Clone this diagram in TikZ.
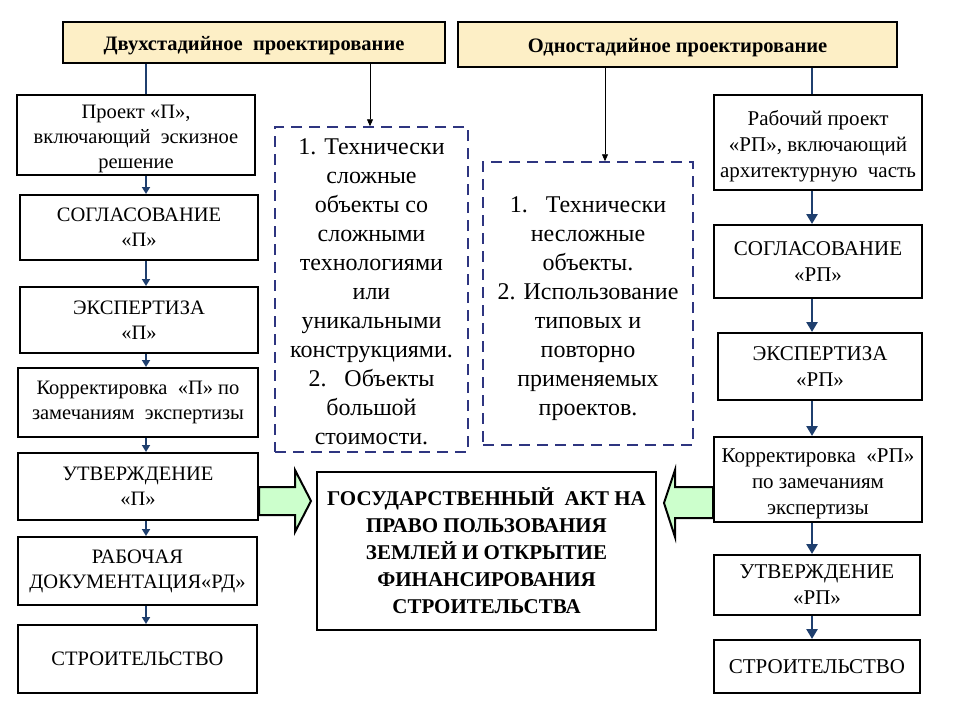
\documentclass[tikz,border=0pt]{standalone}
\usepackage{fontspec}
\setmainfont{Liberation Serif}
\usetikzlibrary{arrows.meta}
\definecolor{hdrfill}{HTML}{FDEFC6}
\definecolor{connblue}{HTML}{1F3F6E}
\definecolor{dashnavy}{HTML}{2E3580}
\definecolor{arrgreen}{HTML}{CCFFCC}
\newcommand{\topstrut}[1]{\rule{0pt}{#1}}
\tikzset{
  box/.style={draw=black, line width=2pt, fill=white, align=center, inner sep=1pt, font=\fontsize{20.5}{25}\selectfont},
  rbox/.style={box, font=\fontsize{21}{26}\selectfont},
  hdr/.style={draw=black, line width=2pt, fill=hdrfill, align=center, inner sep=1pt, font=\fontsize{20.5}{24}\selectfont\bfseries},
  dbox/.style={draw=dashnavy, line width=1.5pt, dash pattern=on 11pt off 7pt, align=center, inner sep=1pt, font=\fontsize{24}{29}\selectfont},
  cbox/.style={draw=black, line width=2pt, align=center, inner sep=1pt, font=\fontsize{21}{27}\selectfont\bfseries},
  conn/.style={draw=connblue, line width=2.8pt},
  connarr/.style={conn, -{Triangle[length=7pt,width=8pt]}},
  connarrR/.style={conn, -{Triangle[length=10pt,width=11pt]}},
  thinarr/.style={draw=black, line width=0.8pt, -{Triangle[length=7pt,width=6pt]}},
  garrow/.style={draw=black, line width=2pt, fill=arrgreen, line join=miter},
}
\begin{document}
\begin{tikzpicture}[x=1pt,y=-1pt]
\useasboundingbox (0,0) rectangle (960,720);
% headers
\node[hdr, minimum width=382, minimum height=41] (h1) at (254,42.5) {\topstrut{21pt}Двухстадийное\ \ проектирование};
\node[hdr, minimum width=439, minimum height=45] (h2) at (677.5,44.5) {\topstrut{21pt}Одностадийное проектирование};
% left column
\node[box, minimum width=238, minimum height=80] (L1) at (136,135) {\topstrut{21pt}Проект «П»,\\включающий\ \ эскизное\\решение};
\node[box, minimum width=238, minimum height=65] (L2) at (139,227.5) {СОГЛАСОВАНИЕ\\«П»};
\node[box, minimum width=238, minimum height=66] (L3) at (139,320) {ЭКСПЕРТИЗА\\«П»};
\node[box, minimum width=240, minimum height=69] (L4) at (138,402.5) {Корректировка\ \ «П» по\\замечаниям\ \ экспертизы};
\node[box, minimum width=240, minimum height=67] (L5) at (138,486.5) {УТВЕРЖДЕНИЕ\\«П»};
\node[box, minimum width=239, minimum height=68] (L6) at (137.5,571) {РАБОЧАЯ\\ДОКУМЕНТАЦИЯ«РД»};
\node[box, minimum width=239, minimum height=68] (L7) at (137.5,659) {СТРОИТЕЛЬСТВО};
% dashed boxes
\node[dbox, minimum width=193, minimum height=325] (D1) at (371.5,289.5) {\topstrut{21pt}1. Технически\\сложные\\объекты со\\сложными\\технологиями\\или\\уникальными\\конструкциями.\\2.\ \ \ Объекты\\большой\\стоимости.};
\node[dbox, minimum width=210, minimum height=283] (D2) at (588,303.5) {\topstrut{27pt}1.\ \ \ Технически\\несложные\\объекты.\\2. Использование\\типовых и\\повторно\\применяемых\\проектов.};
% center
\node[cbox, minimum width=339, minimum height=158] (C) at (486.5,551) {ГОСУДАРСТВЕННЫЙ\ \ АКТ НА\\ПРАВО ПОЛЬЗОВАНИЯ\\ЗЕМЛЕЙ И ОТКРЫТИЕ\\ФИНАНСИРОВАНИЯ\\СТРОИТЕЛЬСТВА};
% right column
\node[rbox, minimum width=208, minimum height=95] (R1) at (818,142.5) {\topstrut{22pt}Рабочий проект\\«РП», включающий\\архитектурную\ \ часть};
\node[rbox, minimum width=208, minimum height=73] (R2) at (818,261.5) {СОГЛАСОВАНИЕ\\«РП»};
\node[rbox, minimum width=204, minimum height=67] (R3) at (820,366.5) {ЭКСПЕРТИЗА\\«РП»};
\node[rbox, minimum width=208, minimum height=85] (R4) at (818,479.5) {\topstrut{22pt}Корректировка\ \ «РП»\\по замечаниям\\экспертизы};
\node[rbox, minimum width=206, minimum height=60] (R5) at (817,585) {УТВЕРЖДЕНИЕ\\«РП»};
\node[rbox, minimum width=206, minimum height=53] (R6) at (817,666.5) {СТРОИТЕЛЬСТВО};
% left connectors
\draw[conn] (146,0 |- h1.south) -- (146,0 |- L1.north);
\draw[connarr] (146,0 |- L1.south) -- (146,0 |- L2.north);
\draw[connarr] (146,0 |- L2.south) -- (146,0 |- L3.north);
\draw[connarr] (146,0 |- L3.south) -- (146,0 |- L4.north);
\draw[connarr] (146,0 |- L4.south) -- (146,0 |- L5.north);
\draw[connarr] (146,0 |- L5.south) -- (146,0 |- L6.north);
\draw[connarr] (146,0 |- L6.south) -- (146,0 |- L7.north);
% right connectors
\draw[conn] (812,0 |- h2.south) -- (812,0 |- R1.north);
\draw[connarrR] (812,0 |- R1.south) -- (812,0 |- R2.north);
\draw[connarrR] (812,0 |- R2.south) -- (812,0 |- R3.north);
\draw[connarrR] (812,0 |- R3.south) -- (812,0 |- R4.north);
\draw[connarrR] (812,0 |- R4.south) -- (812,0 |- R5.north);
\draw[connarrR] (812,0 |- R5.south) -- (812,0 |- R6.north);
% thin arrows
\draw[thinarr] (370,0 |- h1.south) -- (370,0 |- D1.north);
\draw[thinarr] (605,0 |- h2.south) -- (605,0 |- D2.north);
% green block arrows
\draw[garrow] (259,487) -- (295,487) -- (295,470) -- (311,501) -- (295,532) -- (295,515) -- (259,515) -- cycle;
\draw[garrow] (713,487) -- (675,487) -- (675,470) -- (664,503) -- (675,537) -- (675,518) -- (713,518) -- cycle;
\end{tikzpicture}
\end{document}
